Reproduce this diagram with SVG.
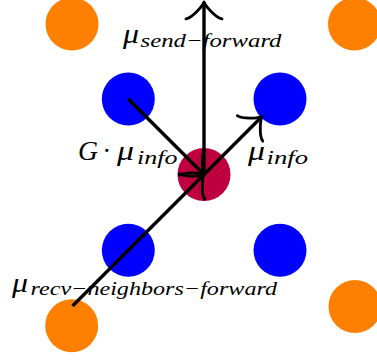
<svg xmlns="http://www.w3.org/2000/svg" width="377" height="360" viewBox="0 0 377 360">
<style>
.o{fill:#FF8000}
.b{fill:#0000FF}
.r{fill:#BF0040}
.e{stroke:#000;stroke-width:3.4;fill:none;stroke-linecap:butt}
.t{font-family:"Liberation Serif","DejaVu Serif",serif;font-style:italic;fill:#000}
.m{font-size:27px}
.s{font-size:19px}
</style>
<defs>
<marker id="to" markerUnits="userSpaceOnUse" orient="auto" refX="0" refY="0" overflow="visible">
<path d="M-16.9,18 C-15.75,11.25 -3.4,1.1 0,0 C-3.4,-1.1 -15.75,-11.25 -16.9,-18" fill="none" stroke="#000" stroke-width="2.8" stroke-linecap="round" stroke-linejoin="round"/>
</marker>
</defs>
<g id="n-o1"><circle class="o" cx="72" cy="24" r="26.5"/></g>
<g id="n-o2"><circle class="o" cx="354.5" cy="24" r="26.5"/></g>
<g id="n-o3"><circle class="o" cx="355" cy="306.5" r="26.5"/></g>
<g id="n-o4"><circle class="o" cx="71.7" cy="325.7" r="26.5"/></g>
<g id="n-b1"><circle class="b" cx="128.3" cy="99" r="26.5"/></g>
<g id="n-b2"><circle class="b" cx="280" cy="99" r="26.5"/></g>
<g id="n-b3"><circle class="b" cx="128.3" cy="250.3" r="26.5"/></g>
<g id="n-b4"><circle class="b" cx="280" cy="250.3" r="26.5"/></g>
<g id="n-c"><circle class="r" cx="204" cy="174.5" r="26.5"/></g>
<g id="connectors">
<line class="e" x1="204" y1="174.5" x2="204" y2="2" marker-end="url(#to)"/>
<line class="e" x1="128.3" y1="99" x2="204" y2="174.5" marker-end="url(#to)"/>
<line class="e" x1="72.5" y1="306" x2="204" y2="174.5" marker-end="url(#to)"/>
<line class="e" x1="204" y1="174.5" x2="262" y2="116.5" marker-end="url(#to)"/>
</g>
<g id="labels">
<text class="t m" x="123" y="43" textLength="16" lengthAdjust="spacingAndGlyphs">μ</text>
<text class="t s" x="140.5" y="46.5" textLength="141" lengthAdjust="spacingAndGlyphs">send−forward</text>
<text class="t m" x="78" y="160" textLength="20" lengthAdjust="spacingAndGlyphs">G</text>
<text class="t m" x="103" y="160">·</text>
<text class="t m" x="117" y="160" textLength="17" lengthAdjust="spacingAndGlyphs">μ</text>
<text class="t s" x="137" y="163.5" textLength="40.5" lengthAdjust="spacingAndGlyphs">info</text>
<text class="t m" x="248" y="160" textLength="17" lengthAdjust="spacingAndGlyphs">μ</text>
<text class="t s" x="266.5" y="163.5" textLength="41.5" lengthAdjust="spacingAndGlyphs">info</text>
<text class="t m" x="12" y="291.5" textLength="16" lengthAdjust="spacingAndGlyphs">μ</text>
<text class="t s" x="30.5" y="295" textLength="246.5" lengthAdjust="spacingAndGlyphs">recv−neighbors−forward</text>
</g>
</svg>
